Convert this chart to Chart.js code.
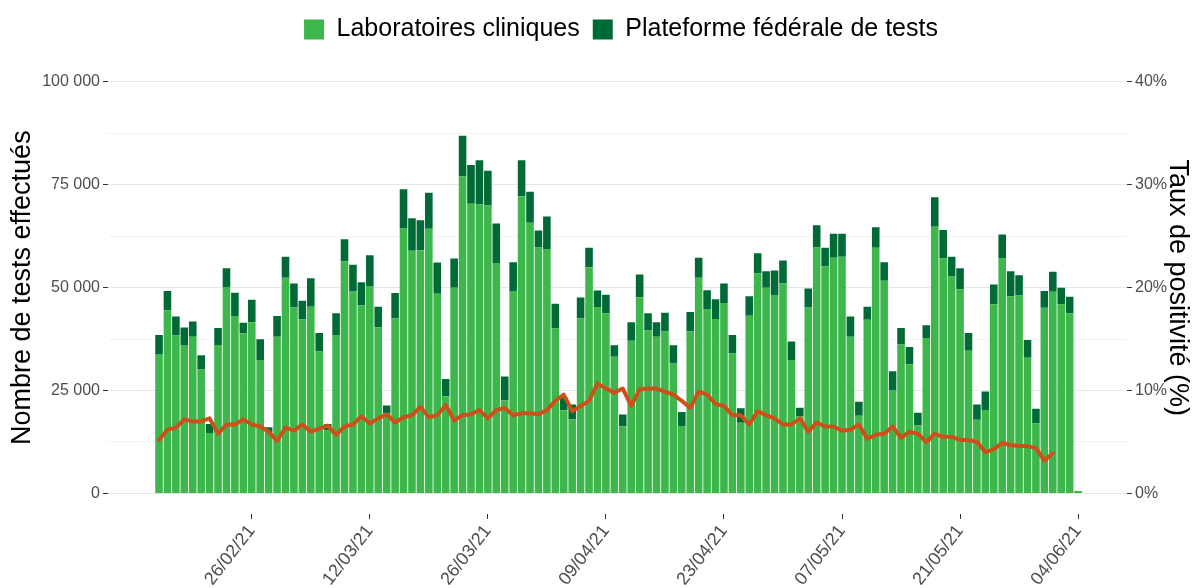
<!DOCTYPE html>
<html><head><meta charset="utf-8">
<script src="https://cdn.jsdelivr.net/npm/chart.js@4.4.1/dist/chart.umd.min.js"></script>
<style>html,body{margin:0;padding:0;background:#fff}</style>
</head><body>
<canvas id="c" width="1194" height="588" style="display:block"></canvas>
<script>
// Categories: one bar per day from 15/02/21 to 04/06/21
const startDate = new Date(2021, 1, 15);
const dayCount = 110;
const dates = [];
for (let i = 0; i < dayCount; i++) {
  const d = new Date(startDate.getFullYear(), startDate.getMonth(), startDate.getDate() + i);
  dates.push(String(d.getDate()).padStart(2,'0') + '/' + String(d.getMonth()+1).padStart(2,'0') + '/21');
}
const tickLabels = ['26/02/21','12/03/21','26/03/21','09/04/21','23/04/21','07/05/21','21/05/21','04/06/21'];

// Tests by clinical laboratories (daily)
const laboratoires = [33900,44500,38400,36100,38100,30100,14700,36100,50200,43100,38900,41600,32400,14900,
 38100,52400,45200,42300,45400,34500,15300,38500,56400,49100,45700,50400,40400,19400,
 42500,64400,59000,59100,64300,48500,23600,50000,77000,70400,70200,70000,56000,22600,
 49200,72200,65800,59800,59400,40100,20200,18000,42500,55000,45300,43800,33200,16300,
 37100,47700,39600,38100,39400,31600,16400,39400,52400,44800,42400,46300,34000,17200,
 43200,53500,50000,48200,51100,32400,18700,45200,59800,55200,57300,57500,38100,18900,
 42200,59700,51700,25000,36200,31400,16500,37800,64800,57100,52700,49600,34700,17900,
 20300,46000,57200,47900,48100,33000,17000,45100,49000,45900,43800,600];
// Tests by the federal testing platform (daily)
const plateforme = [4600,4700,4600,4200,3700,3500,2200,4100,4500,5700,2600,5500,5100,1200,
 5000,5100,5800,4500,6900,4500,1600,5300,5400,6500,5600,7500,5000,2000,
 6200,9500,7900,7300,8800,7600,4200,7100,9900,9400,10800,8400,9600,5800,
 7000,8800,7500,4100,7900,6000,3200,3600,5100,4700,4000,4500,2800,2900,
 4500,5500,4200,3500,4500,4400,3400,4700,4900,4600,4800,4700,4500,3500,
 4700,4900,4000,6000,5500,4500,2100,4600,5400,4500,5800,5600,4900,3400,
 3200,5000,4500,4700,4000,4200,3100,3100,7200,6900,4800,5100,4300,3700,
 4500,4800,5700,6100,4900,4300,3600,4100,4900,4100,4000,0];
// Positivity rate (%)
const positivite = [5.2,6.2,6.4,7.2,7.0,7.0,7.3,5.8,6.7,6.7,7.2,6.7,6.5,6.0,
 5.1,6.4,6.1,6.7,6.0,6.3,6.6,5.7,6.5,6.7,7.5,6.8,7.3,7.7,
 6.9,7.4,7.6,8.4,7.4,7.6,8.6,7.1,7.6,7.7,8.1,7.3,8.1,8.3,
 7.6,7.8,7.8,7.7,8.1,9.0,9.6,8.0,8.5,9.0,10.7,10.2,9.8,10.2,
 8.5,10.1,10.2,10.2,9.9,9.6,9.0,8.3,9.9,9.6,8.7,8.5,7.6,7.6,
 6.7,8.0,7.6,7.3,6.7,6.7,7.3,6.0,6.9,6.5,6.5,6.1,6.2,6.7,
 5.3,5.7,5.8,6.5,5.4,6.0,5.8,5.0,5.8,5.5,5.5,5.2,5.2,5.0,
 4.0,4.3,4.9,4.7,4.6,4.6,4.4,3.2,3.9,null,null,null];

const FONT = "'Liberation Sans', Arial, sans-serif";
const pts = arr => arr.map((v, i) => ({x: i, y: v}));
const fmt = v => v === 0 ? '0' : (Math.round(v/1000) + ' 000');

// Legend box: fixed height and centred over the plotting panel
const legendTweak = {
  id: 'legendTweak',
  afterInit(chart) {
    const lg = chart.legend;
    const fit = lg.fit;
    lg.fit = function () { fit.call(this); this.height = 57.4; };
    const draw = lg.draw;
    lg.draw = function () { const ctx = this.ctx; ctx.save(); ctx.translate(24, 0); draw.call(this); ctx.restore(); };
  }
};

new Chart(document.getElementById('c'), {
  data: {
    datasets: [
      {type:'line', label:'Taux de positivité', data: pts(positivite), yAxisID:'y2', order:0,
       borderColor:'#cf4f1b', borderWidth:4, pointRadius:0, tension:0, spanGaps:false,
       borderJoinStyle:'round', borderCapStyle:'round'},
      {type:'bar', label:'Laboratoires cliniques', data: pts(laboratoires), yAxisID:'y', order:1,
       backgroundColor:'#3db64b', barPercentage:0.9, categoryPercentage:1},
      {type:'bar', label:'Plateforme fédérale de tests', data: pts(plateforme), yAxisID:'y', order:2,
       backgroundColor:'#006a36', barPercentage:0.9, categoryPercentage:1}
    ]
  },
  plugins: [legendTweak],
  options: {
    responsive:false, animation:false, devicePixelRatio:1,
    layout:{padding:{top:4,left:0,right:0,bottom:0}},
    plugins:{
      tooltip:{enabled:false},
      legend:{
        position:'top',
        labels:{
          filter: item => item.datasetIndex !== 0,
          boxWidth:20, boxHeight:20, padding:13,
          color:'#000', font:{family:FONT, size:25}
        }
      }
    },
    scales:{
      x:{
        type:'linear', stacked:true, min:-6.05, max:114.8, offset:false,
        border:{display:false},
        grid:{offset:false, drawOnChartArea:false, drawTicks:true, tickLength:5, tickColor:'#333', lineWidth:1},
        afterBuildTicks: s => { s.ticks = tickLabels.map(l => ({value: dates.indexOf(l)})); },
        afterFit: s => { s.height = 74; },
        ticks:{autoSkip:false, minRotation:52, maxRotation:52, padding:2, color:'#4d4d4d',
          font:{family:FONT, size:18}, callback: v => dates[v]}
      },
      y:{
        position:'left', stacked:true, min:-5000, max:105000,
        border:{display:false},
        afterBuildTicks: s => { const t=[]; for (let v=0; v<=100000; v+=12500) t.push({value:v}); s.ticks=t; },
        afterFit: s => { s.width = 108; },
        grid:{
          color: c => (c.tick && c.tick.value % 25000 === 0) ? '#e6e6e6' : '#f3f3f3',
          tickColor: c => (c.tick && c.tick.value % 25000 === 0) ? '#333' : 'rgba(0,0,0,0)',
          tickLength:5, lineWidth:1
        },
        ticks:{padding:3, color:'#4d4d4d', font:{family:FONT, size:16},
          callback: v => (v % 25000 === 0) ? fmt(v) : ''},
        title:{display:true, text:'Nombre de tests effectués', color:'#000',
          font:{family:FONT, size:27}, padding:{top:6, bottom:0}}
      },
      y2:{
        position:'right', min:-2, max:42,
        border:{display:false},
        afterBuildTicks: s => { const t=[]; for (let v=0; v<=40; v+=10) t.push({value:v}); s.ticks=t; },
        afterFit: s => { s.width = 67; },
        grid:{drawOnChartArea:false, tickLength:5, tickColor:'#333'},
        ticks:{padding:3, color:'#4d4d4d', font:{family:FONT, size:16}, callback: v => v + '%'},
        title:{display:true, text:'Taux de positivité (%)', color:'#000',
          font:{family:FONT, size:27}, padding:{top:0, bottom:0}}
      }
    }
  }
});
</script>
</body></html>
